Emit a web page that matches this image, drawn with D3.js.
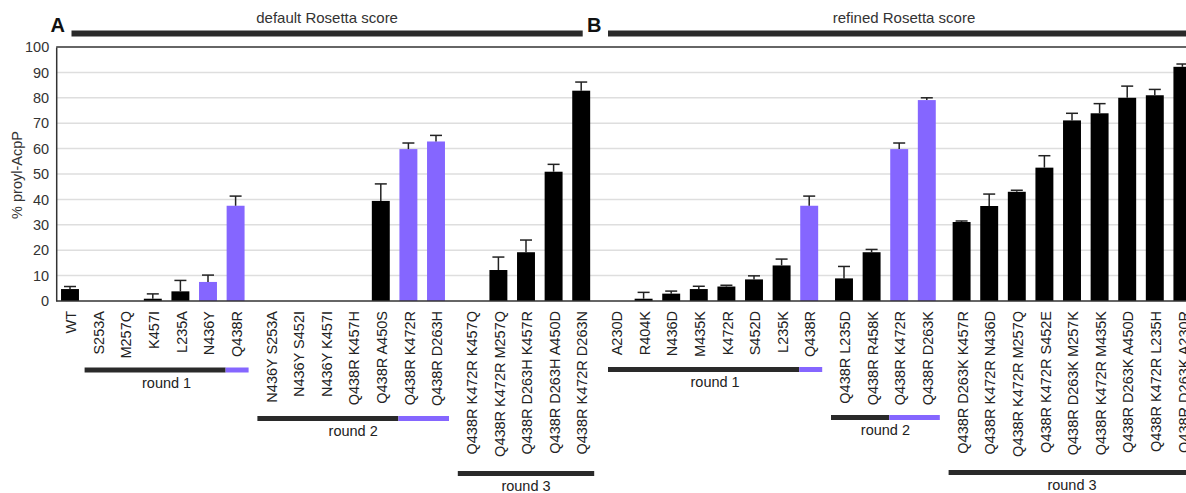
<!DOCTYPE html>
<html>
<head>
<meta charset="utf-8">
<script src="https://cdn.jsdelivr.net/npm/d3@7"></script>
<style>
  body { margin: 0; background: #fff; }
  svg { display: block; font-family: "Liberation Sans", Arial, sans-serif; }
</style>
</head>
<body>
<div id="chart"></div>
<script>
'use strict';

// mutants, grouped by panel and round (A1, A2, A3, B1, B2, B3)
var mutants = [
  ["WT", "S253A", "M257Q", "K457I", "L235A", "N436Y", "Q438R"],
  ["N436Y S253A", "N436Y S452I", "N436Y K457I", "Q438R K457H", "Q438R A450S", "Q438R K472R", "Q438R D263H"],
  ["Q438R K472R K457Q", "Q438R K472R M257Q", "Q438R D263H K457R", "Q438R D263H A450D", "Q438R K472R D263N"],
  ["A230D", "R404K", "N436D", "M435K", "K472R", "S452D", "L235K", "Q438R"],
  ["Q438R L235D", "Q438R R458K", "Q438R K472R", "Q438R D263K"],
  ["Q438R D263K K457R", "Q438R K472R N436D", "Q438R K472R M257Q", "Q438R K472R S452E", "Q438R D263K M257K",
   "Q438R K472R M435K", "Q438R D263K A450D", "Q438R K472R L235H", "Q438R D263K A230R"]
];

// % proyl-AcpP
var values = [
  [4.7, 0, 0, 0.9, 3.8, 7.5, 37.5],
  [0, 0, 0, 0, 39.4, 59.8, 62.8],
  [0, 12.2, 19.2, 50.9, 82.8],
  [0, 0.9, 2.9, 4.7, 5.7, 8.5, 14.0, 37.5],
  [8.9, 19.2, 59.8, 79.1],
  [31.1, 37.4, 43.0, 52.5, 71.1, 73.9, 80.0, 81.0, 92.2]
];

var errors = [
  [1.0, 0, 0, 1.9, 4.3, 2.7, 3.8],
  [0, 0, 0, 0, 6.7, 2.4, 2.4],
  [0, 5.1, 4.8, 2.9, 3.4],
  [0, 2.5, 1.0, 1.1, 0.5, 1.4, 2.5, 3.8],
  [4.7, 1.1, 2.4, 0.9],
  [0.4, 4.7, 0.6, 4.7, 2.8, 3.8, 4.6, 2.3, 1.1]
];

// selected (purple) mutants
var selected = ["N436Y", "Q438R", "Q438R K472R", "Q438R D263H", "Q438R D263K"];
var selectedGroups = [0, 1, 3, 4];

var roundNames = ["round 1", "round 2", "round 3", "round 1", "round 2", "round 3"];
var roundFirst = [1, 0, 0, 0, 0, 0];
var roundPurpleFrom = [6, 5, null, 7, 2, null];

var panelTitles = ["default Rosetta score", "refined Rosetta score"];
var panelLetters = ["A", "B"];
var yTicks = [0, 10, 20, 30, 40, 50, 60, 70, 80, 90, 100];

var W = 1186, H = 493;
var purple = "#8566ff", dark = "#2a2a2a";
var mLeft = 56.2, mTop = 47, mBottom = 301;
var step = 27.6, gap = 7.2;

var svg = d3.select("#chart").append("svg")
  .attr("width", W).attr("height", H);

var y = d3.scaleLinear().domain([0, 100]).range([mBottom, mTop]);

// one band scale per group
var scales = [];
var cursor = mLeft;
mutants.forEach(function(g, gi) {
  var s = d3.scaleBand().domain(g)
    .range([cursor, cursor + g.length * step])
    .paddingInner(0.35).paddingOuter(0.175);
  scales.push(s);
  cursor += g.length * step + gap;
});
function center(gi, i) {
  var s = scales[gi];
  return s(mutants[gi][i]) + s.bandwidth() / 2;
}

// gridlines
svg.append("g").selectAll("line")
  .data(yTicks.filter(function(d) { return d > 0 && d < 100; }))
  .enter().append("line")
  .attr("x1", mLeft).attr("x2", W)
  .attr("y1", function(d) { return y(d); })
  .attr("y2", function(d) { return y(d); })
  .attr("stroke", "#dedede").attr("stroke-width", 1.5);

// top frame line
svg.append("line").attr("x1", mLeft).attr("x2", W).attr("y1", mTop).attr("y2", mTop)
  .attr("stroke", "#333").attr("stroke-width", 1.5);

// y axis
var yAxis = svg.append("g")
  .attr("transform", "translate(" + mLeft + ",0)")
  .call(d3.axisLeft(y).tickValues(yTicks).tickSize(0).tickPadding(7));
yAxis.select(".domain").attr("stroke", "#333").attr("stroke-width", 1.5);
yAxis.selectAll("text").attr("font-size", "14.5px").attr("fill", "#333")
  .attr("font-family", "Liberation Sans, Arial, sans-serif");

svg.append("text")
  .attr("transform", "translate(22,175) rotate(-90)")
  .attr("text-anchor", "middle")
  .attr("font-size", "14.5px").attr("fill", "#333")
  .text("% proyl-AcpP");

// bars
mutants.forEach(function(g, gi) {
  var s = scales[gi];
  var rows = g.map(function(name, i) {
    return { name: name, v: values[gi][i], e: errors[gi][i], i: i,
      sel: selectedGroups.indexOf(gi) >= 0 && selected.indexOf(name) >= 0 };
  });
  var grp = svg.append("g");

  grp.selectAll("rect").data(rows.filter(function(d) { return d.v > 0; }))
    .enter().append("rect")
    .attr("x", function(d) { return s(d.name); })
    .attr("width", s.bandwidth())
    .attr("y", function(d) { return y(d.v); })
    .attr("height", function(d) { return y(0) - y(d.v); })
    .attr("fill", function(d) { return d.sel ? purple : "#000"; });

  var eb = grp.selectAll("g.err").data(rows.filter(function(d) { return d.v > 0 && d.e > 0; }))
    .enter().append("g").attr("class", "err");
  eb.append("line")
    .attr("x1", function(d) { return center(gi, d.i); })
    .attr("x2", function(d) { return center(gi, d.i); })
    .attr("y1", function(d) { return y(d.v); })
    .attr("y2", function(d) { return y(d.v + d.e); })
    .attr("stroke", "#222").attr("stroke-width", 1.5);
  eb.append("line")
    .attr("x1", function(d) { return center(gi, d.i) - 6; })
    .attr("x2", function(d) { return center(gi, d.i) + 6; })
    .attr("y1", function(d) { return y(d.v + d.e); })
    .attr("y2", function(d) { return y(d.v + d.e); })
    .attr("stroke", "#222").attr("stroke-width", 1.5);

  // x labels
  grp.selectAll("text.lab").data(rows).enter().append("text")
    .attr("class", "lab")
    .attr("transform", function(d) { return "translate(" + (center(gi, d.i) + 1) + ",311) rotate(-90)"; })
    .attr("text-anchor", "end")
    .attr("dy", "0.36em")
    .attr("font-size", "14.5px").attr("fill", "#222")
    .text(function(d) { return d.name; });
});

// bottom axis line
svg.append("line").attr("x1", mLeft).attr("x2", W).attr("y1", mBottom).attr("y2", mBottom)
  .attr("stroke", "#333").attr("stroke-width", 1.5);

// round annotations
var roundY = [367.5, 416, 471, 367, 415, 470];
roundNames.forEach(function(r, gi) {
  var n = mutants[gi].length;
  var x1 = center(gi, roundFirst[gi]) - 13;
  var x2 = center(gi, n - 1) + 13;
  if (gi === 3) x1 += 5;
  var xp = roundPurpleFrom[gi] == null ? x2 : center(gi, roundPurpleFrom[gi]) - 10;
  svg.append("rect").attr("x", x1).attr("y", roundY[gi])
    .attr("width", xp - x1).attr("height", 5).attr("fill", dark);
  if (xp < x2) {
    svg.append("rect").attr("x", xp).attr("y", roundY[gi])
      .attr("width", x2 - xp).attr("height", 5).attr("fill", purple);
  }
  svg.append("text")
    .attr("x", (x1 + x2) / 2).attr("y", roundY[gi] + 20)
    .attr("text-anchor", "middle")
    .attr("font-size", "14.5px").attr("fill", "#222")
    .text(r);
});

// panel headers
var panelSpan = [
  [center(0, 0) + 1.5, center(2, mutants[2].length - 1) + 1.5],
  [center(3, 0) - 8, W + 14]
];
panelTitles.forEach(function(t, p) {
  var x1 = panelSpan[p][0], x2 = panelSpan[p][1];
  svg.append("rect").attr("x", x1).attr("y", 30.5)
    .attr("width", x2 - x1).attr("height", 6).attr("fill", dark);
  svg.append("text")
    .attr("x", (x1 + x2) / 2).attr("y", 23)
    .attr("text-anchor", "middle")
    .attr("font-size", "15px").attr("fill", "#333")
    .text(t);
  svg.append("text")
    .attr("x", x1 - 21).attr("y", 32)
    .attr("font-size", "20px").attr("font-weight", "bold").attr("fill", "#111")
    .text(panelLetters[p]);
});
</script>
</body>
</html>
